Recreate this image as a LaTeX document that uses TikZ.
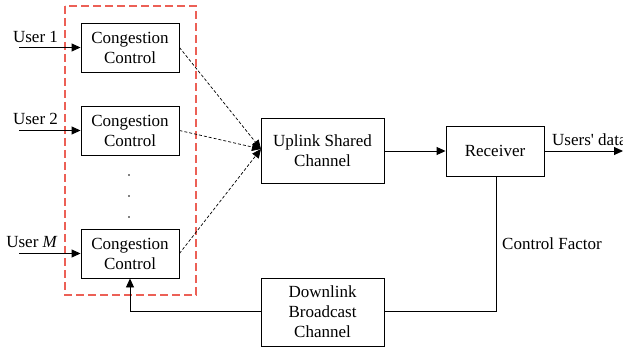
\documentclass[tikz,border=0pt]{standalone}
\usepackage{fontspec}
\setmainfont{Liberation Serif}
\usetikzlibrary{arrows.meta}
\definecolor{redbox}{RGB}{236,96,86}
\begin{document}
\begin{tikzpicture}[x=1pt,y=-1pt,
  blk/.style={draw,line width=0.9pt,align=center,inner sep=0pt,font=\fontsize{17}{20}\selectfont},
  lbl/.style={inner sep=0pt,font=\fontsize{17}{20}\selectfont},
  arr/.style={line width=0.9pt,-{Triangle[length=9pt,width=8pt]}},
  darr/.style={line width=0.7pt,dash pattern=on 3pt off 2pt,-{Triangle[length=9pt,width=8pt]}},
  ln/.style={line width=0.9pt}]
\useasboundingbox (0,0) rectangle (623,347);
\clip (0,0) rectangle (623,347);
\node[blk,minimum width=98pt,minimum height=49pt] (cc1) at (130,47.5) {Congestion\\Control};
\node[blk,minimum width=98pt,minimum height=49pt] (cc2) at (130,130.5) {Congestion\\Control};
\node[blk,minimum width=98pt,minimum height=49pt] (ccm) at (130,253.5) {Congestion\\Control};
\node[blk,minimum width=123pt,minimum height=65pt] (up) at (322.5,150.5) {Uplink Shared\\Channel};
\node[blk,minimum width=98pt,minimum height=50pt] (rx) at (495,151) {Receiver};
\node[blk,minimum width=123pt,minimum height=68pt] (dl) at (322.5,312) {Downlink\\Broadcast\\Channel};
\draw[redbox,line width=1.4pt,dash pattern=on 8pt off 4pt] (65,6) rectangle (196,295);
\node[lbl] (u1) at (35.5,37) {User 1};
\node[lbl] (u2) at (35.5,119) {User 2};
\node[lbl] (um) at (32,242) {User \emph{M}};
\coordinate (s1) at (19,47.5);
\coordinate (s2) at (19,130.5);
\coordinate (sm) at (19,253.5);
\draw[arr] (s1) -- (cc1.west);
\draw[arr] (s2) -- (cc2.west);
\draw[arr] (sm) -- (ccm.west);
\foreach \y [count=\i] in {175,196,217} \fill (129,\y) circle (0.9pt) coordinate (dot\i);
\coordinate (conv) at (261,149);
\draw[darr] (cc1.east) -- (conv);
\draw[darr] (cc2.east) -- (conv);
\draw[darr] (ccm.east) -- (conv);
\draw[arr] (up.east |- rx.west) -- (rx.west);
\coordinate (out) at (623,151);
\draw[arr] (rx.east) -- (out);
\node[lbl,anchor=west] (ud) at (552,140) {Users\textquotesingle{} data};
\coordinate (c1) at (496,311);
\draw[ln] (rx.south -| c1) -- (c1) -- (dl.east |- c1);
\node[lbl,anchor=west] (cf) at (502,244) {Control Factor};
\coordinate (c2) at (130,311);
\draw[ln] (dl.west |- c2) -- (c2);
\draw[arr] (c2) -- (ccm.south);
\end{tikzpicture}
\end{document}
